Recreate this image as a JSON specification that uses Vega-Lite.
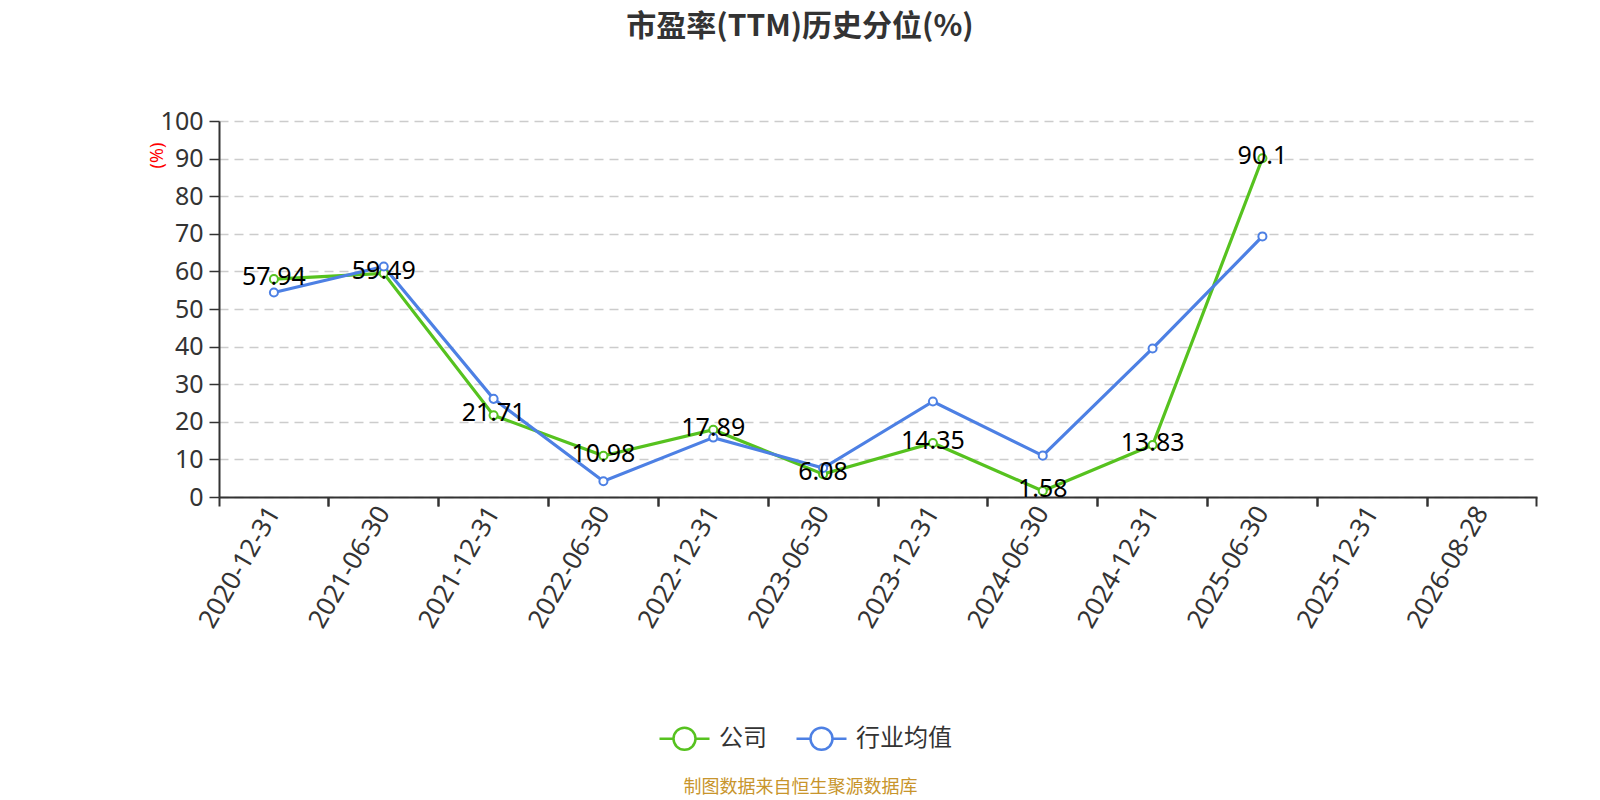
{
  "$schema": "https://vega.github.io/schema/vega-lite/v6.json",
  "width": 1318,
  "height": 376,
  "autosize": {"type": "none"},
  "padding": {"left": 219, "top": 121, "right": 63, "bottom": 303},
  "background": "white",
  "config": {"view": {"stroke": null}},
  "title": {
    "text": "市盈率(TTM)历史分位(%)",
    "font": "Noto Sans CJK SC",
    "fontSize": 30,
    "fontWeight": "bold",
    "color": "#333333",
    "anchor": "middle",
    "frame": "group",
    "dx": -78,
    "offset": 67
  },
  "data": {
    "values": [
      {"date": "2020-12-31", "series": "公司", "value": 57.94},
      {"date": "2021-06-30", "series": "公司", "value": 59.49},
      {"date": "2021-12-31", "series": "公司", "value": 21.71},
      {"date": "2022-06-30", "series": "公司", "value": 10.98},
      {"date": "2022-12-31", "series": "公司", "value": 17.89},
      {"date": "2023-06-30", "series": "公司", "value": 6.08},
      {"date": "2023-12-31", "series": "公司", "value": 14.35},
      {"date": "2024-06-30", "series": "公司", "value": 1.58},
      {"date": "2024-12-31", "series": "公司", "value": 13.83},
      {"date": "2025-06-30", "series": "公司", "value": 90.1},
      {"date": "2020-12-31", "series": "行业均值", "value": 54.4},
      {"date": "2021-06-30", "series": "行业均值", "value": 61.3},
      {"date": "2021-12-31", "series": "行业均值", "value": 26.1},
      {"date": "2022-06-30", "series": "行业均值", "value": 4.2},
      {"date": "2022-12-31", "series": "行业均值", "value": 15.8},
      {"date": "2023-06-30", "series": "行业均值", "value": 7.7},
      {"date": "2023-12-31", "series": "行业均值", "value": 25.4},
      {"date": "2024-06-30", "series": "行业均值", "value": 11.0},
      {"date": "2024-12-31", "series": "行业均值", "value": 39.5},
      {"date": "2025-06-30", "series": "行业均值", "value": 69.3}
    ]
  },
  "encoding": {
    "y": {
      "field": "value", "type": "quantitative",
      "scale": {"domain": [0, 100], "nice": false},
      "axis": {
        "values": [0,10,20,30,40,50,60,70,80,90,100],
        "tickCount": 11,
        "labelOverlap": false,
        "title": "(%)",
        "titleColor": "red",
        "titleFont": "Noto Sans",
        "titleFontSize": 18,
        "titleFontWeight": "normal",
        "titleAngle": -90,
        "titleX": -62,
        "titleY": 34,
        "titleAlign": "center",
        "titleBaseline": "middle",
        "labelFont": "Noto Sans",
        "labelFontSize": 25,
        "labelColor": "#333333",
        "labelPadding": 6,
        "tickSize": 10,
        "tickColor": "#333333",
        "tickWidth": 1.5,
        "domainColor": "#333333",
        "domainWidth": 2,
        "grid": true,
        "gridColor": "#cccccc",
        "gridDash": [9, 6],
        "gridWidth": 1.3
      }
    },
    "color": {
      "field": "series", "type": "nominal",
      "scale": {"domain": ["公司", "行业均值"], "range": ["#56c21f", "#4d80e4"]},
      "legend": {
        "orient": "none",
        "legendX": 439,
        "legendY": 591,
        "direction": "horizontal",
        "title": null,
        "padding": 0,
        "symbolType": "M-1,0L-0.44,0M0.44,0L1,0M-0.44,0A0.44,0.44,0,1,1,0.44,0A0.44,0.44,0,1,1,-0.44,0Z",
        "symbolSize": 2500,
        "symbolStrokeWidth": 2.5,
        "symbolFillColor": "white",
        "labelFont": "Noto Sans CJK SC",
        "labelFontSize": 24,
        "labelColor": "#333333",
        "labelOffset": 8,
        "columnPadding": 24
      }
    }
  },
  "resolve": {"axis": {"x": "independent"}},
  "layer": [
    {
      "mark": {"type": "line", "strokeWidth": 3.2},
      "encoding": {
        "x": {
          "field": "date", "type": "ordinal", "sort": null,
          "scale": {"type": "band", "paddingInner": 0, "paddingOuter": 0,
            "domain": ["2020-12-31","2021-06-30","2021-12-31","2022-06-30","2022-12-31","2023-06-30","2023-12-31","2024-06-30","2024-12-31","2025-06-30","2025-12-31","2026-08-28"]},
          "axis": {
            "orient": "bottom",
            "ticks": false,
            "grid": false,
            "domain": true,
            "domainColor": "#333333",
            "domainWidth": 2,
            "labelAngle": -60,
            "labelFont": "Noto Sans",
            "labelFontSize": 26,
            "labelColor": "#333333",
            "labelPadding": 11,
            "title": "制图数据来自恒生聚源数据库",
            "titleFont": "Noto Sans CJK SC",
            "titleFontSize": 18,
            "titleFontWeight": "normal",
            "titleColor": "#c8952c",
            "titleX": 581,
            "titleY": 290,
            "titleAlign": "center",
            "titleBaseline": "middle",
            "titleAnchor": null
          }
        }
      }
    },
    {
      "mark": {"type": "point", "filled": false, "fill": "white", "size": 65, "strokeWidth": 2, "opacity": 1},
      "encoding": {
        "x": {
          "field": "date", "type": "ordinal", "sort": null,
          "axis": {
            "orient": "bottom", "labels": false, "ticks": true, "domain": false, "grid": false, "title": null,
            "bandPosition": 0, "tickSize": 9, "tickColor": "#333333", "tickWidth": 2
          }
        }
      }
    },
    {
      "transform": [{"filter": "datum.series === '公司'"}],
      "mark": {"type": "text", "font": "Noto Sans", "fontSize": 25, "color": "black", "baseline": "middle", "align": "center", "dy": -2},
      "encoding": {
        "x": {
          "field": "date", "type": "ordinal", "sort": null,
          "axis": {
            "orient": "bottom", "labels": false, "ticks": true, "domain": false, "grid": false, "title": null,
            "bandPosition": 1, "tickSize": 9, "tickColor": "#333333", "tickWidth": 2
          }
        },
        "text": {"field": "value", "type": "nominal"},
        "color": {"value": "black"}
      }
    }
  ]
}
